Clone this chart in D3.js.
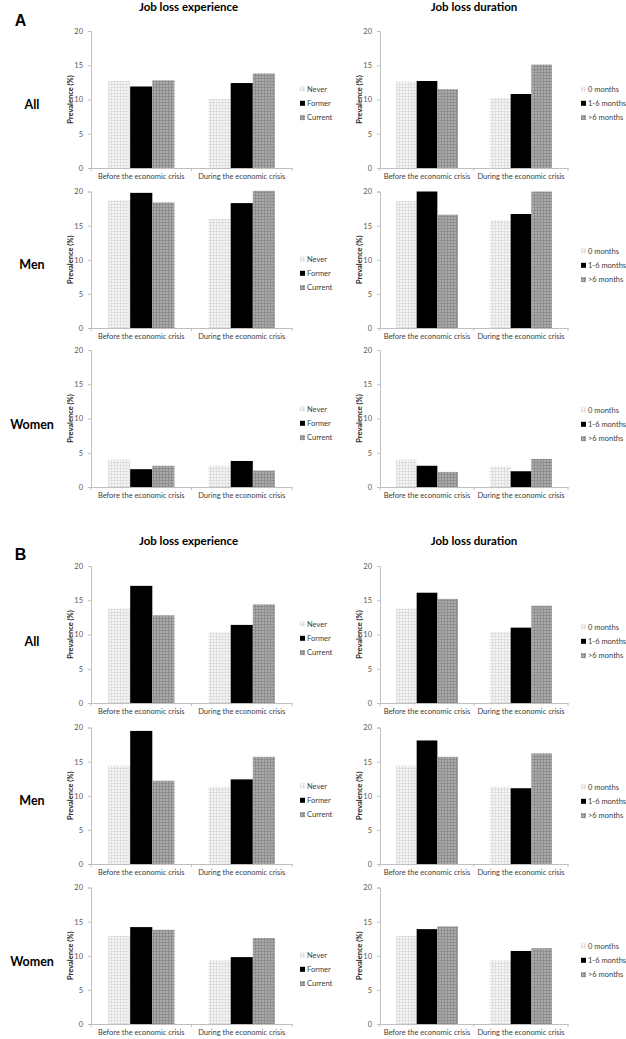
<!DOCTYPE html>
<html><head><meta charset="utf-8">
<script src="https://cdn.jsdelivr.net/npm/d3@7"></script>
<style>
html,body{margin:0;padding:0;background:#fff;}
svg{display:block;font-family:Lato, "Open Sans", sans-serif;}
</style></head>
<body>
<script>
// ---------- data ----------
const categories = ["Before the economic crisis", "During the economic crisis"];
const experienceSeries = ["Never", "Former", "Current"];
const durationSeries = ["0 months", "1-6 months", ">6 months"];
const groups = ["All", "Men", "Women"];
const yTicks = [0, 5, 10, 15, 20];
const sectionLabels = ["A", "B"];
const columnTitles = ["Job loss experience", "Job loss duration"];

// values: one row per series, one column per category
const A_experience_All   = [[12.7, 10.1], [11.9, 12.4], [12.8, 13.8]];
const A_experience_Men   = [[18.7, 16.0], [19.8, 18.3], [18.4, 20.1]];
const A_experience_Women = [[4.0, 3.1], [2.6, 3.8], [3.1, 2.4]];
const A_duration_All     = [[12.6, 10.2], [12.7, 10.8], [11.5, 15.1]];
const A_duration_Men     = [[18.6, 15.8], [20.0, 16.7], [16.6, 20.0]];
const A_duration_Women   = [[4.0, 3.0], [3.1, 2.3], [2.2, 4.1]];
const B_experience_All   = [[13.8, 10.3], [17.1, 11.4], [12.8, 14.4]];
const B_experience_Men   = [[14.4, 11.3], [19.5, 12.4], [12.2, 15.7]];
const B_experience_Women = [[12.9, 9.3], [14.2, 9.8], [13.8, 12.6]];
const B_duration_All     = [[13.8, 10.4], [16.1, 11.0], [15.2, 14.2]];
const B_duration_Men     = [[14.4, 11.3], [18.1, 11.1], [15.7, 16.2]];
const B_duration_Women   = [[12.9, 9.3], [13.9, 10.7], [14.3, 11.1]];

// ---------- layout ----------
const W = 626, H = 1039;
const svg = d3.select("body").append("svg").attr("width", W).attr("height", H);

const defs = svg.append("defs");
function pat(id, bg, fg) {
  const p = defs.append("pattern").attr("id", id).attr("patternUnits", "userSpaceOnUse")
    .attr("width", 3).attr("height", 3);
  p.append("rect").attr("width", 3).attr("height", 3).attr("fill", bg);
  p.append("rect").attr("x", 0).attr("y", 0).attr("width", 3).attr("height", 1).attr("fill", fg);
  p.append("rect").attr("x", 0).attr("y", 0).attr("width", 1).attr("height", 3).attr("fill", fg);
}
pat("pNever", "#f6f6f6", "#dedede");
pat("pCurrent", "#ababab", "#8e8e8e");
const fills = ["url(#pNever)", "#000", "url(#pCurrent)"];

const columns = [
  {x0: 91, x1: 292, legX: 300},
  {x0: 380, x1: 568, legX: 581}
];
const sections = [
  {label: "A", labelY: 26, titleY: 11,
   rows: [{top: 31, bot: 168, rowY: 109, leg: [89, 89]},
          {top: 191.5, bot: 328, rowY: 269, leg: [259, 251]},
          {top: 350, bot: 487, rowY: 429, leg: [409, 410]}]},
  {label: "B", labelY: 560, titleY: 545,
   rows: [{top: 566, bot: 703, rowY: 646, leg: [624, 627]},
          {top: 727.5, bot: 864, rowY: 805, leg: [786, 787]},
          {top: 887.5, bot: 1024, rowY: 966, leg: [955, 946]}]}
];
const dataBy = {
  A: [[A_experience_All, A_duration_All], [A_experience_Men, A_duration_Men], [A_experience_Women, A_duration_Women]],
  B: [[B_experience_All, B_duration_All], [B_experience_Men, B_duration_Men], [B_experience_Women, B_duration_Women]]
};
const seriesBy = [experienceSeries, durationSeries];
const axisCol = "#bfbfbf";

sections.forEach((sec, si) => {
  svg.append("text").attr("x", 20.5).attr("y", sec.labelY).attr("text-anchor", "middle")
    .attr("font-size", 16).attr("font-weight", 700).attr("font-family", "Liberation Sans, Arial, sans-serif")
    .text(sectionLabels[si]);
  columns.forEach((col, ci) => {
    svg.append("text").attr("x", (col.x0 + col.x1) / 2 - (ci === 0 ? 3 : 0)).attr("y", sec.titleY)
      .attr("text-anchor", "middle").attr("font-size", 11.5).attr("font-weight", 700)
      .text(columnTitles[ci]);
  });
  sec.rows.forEach((row, ri) => {
    svg.append("text").attr("x", 32).attr("y", row.rowY).attr("text-anchor", "middle")
      .attr("font-size", 12.5).attr("font-weight", 700).text(groups[ri]);
    columns.forEach((col, ci) => {
      const series = seriesBy[ci];
      const vals = dataBy[sec.label][ri][ci];
      const y = d3.scaleLinear().domain([0, 20]).range([row.bot, row.top]);
      const x0 = d3.scaleBand().domain(categories).range([col.x0, col.x1]).padding(0);
      const bw = x0.bandwidth();
      const x1 = d3.scaleBand().domain(series).range([bw * 0.17, bw * 0.83]).padding(0);
      const g = svg.append("g");

      // bars
      categories.forEach((cat, k) => {
        series.forEach((s, j) => {
          const v = vals[j][k];
          g.append("rect")
            .attr("x", x0(cat) + x1(s)).attr("width", x1.bandwidth())
            .attr("y", y(v)).attr("height", y(0) - y(v))
            .attr("fill", fills[j]);
        });
      });

      // y axis
      const ya = d3.axisLeft(y).tickValues(yTicks).tickSize(3).tickPadding(5);
      const yg = g.append("g").attr("transform", `translate(${col.x0},0)`).call(ya);
      yg.select(".domain").attr("stroke", axisCol);
      yg.selectAll(".tick line").attr("stroke", axisCol);
      yg.selectAll(".tick text").attr("font-size", 7.5).attr("fill", "#595959").attr("font-family", "Lato, sans-serif");

      // x axis
      const xa = d3.axisBottom(x0).tickSize(0).tickPadding(6);
      const xg = g.append("g").attr("transform", `translate(0,${row.bot})`).call(xa);
      xg.select(".domain").attr("stroke", axisCol);
      xg.selectAll(".tick text").attr("font-size", 7.5).attr("fill", "#404040").attr("font-family", "Lato, sans-serif");
      [col.x0, col.x0 + bw, col.x1].forEach(px => {
        xg.append("line").attr("x1", px).attr("x2", px).attr("y1", 0).attr("y2", 3).attr("stroke", axisCol);
      });

      // y label
      g.append("text").attr("transform", `translate(${col.x0 - 21},${(row.top + row.bot) / 2}) rotate(-90)`)
        .attr("text-anchor", "middle").attr("dy", "0.35em").attr("font-size", 7.5).attr("font-weight", 700)
        .attr("fill", "#262626").text("Prevalence (%)");

      // legend
      const lg = g.append("g").attr("transform", `translate(${col.legX},${row.leg[ci]})`);
      series.forEach((s, j) => {
        lg.append("rect").attr("x", 0).attr("y", j * 14.3 - 2.5).attr("width", 5).attr("height", 5).attr("fill", fills[j]);
        lg.append("text").attr("x", 7).attr("y", j * 14.3).attr("dy", "0.35em")
          .attr("font-size", 7.5).attr("fill", "#404040").text(s);
      });
    });
  });
});
</script>
</body></html>
